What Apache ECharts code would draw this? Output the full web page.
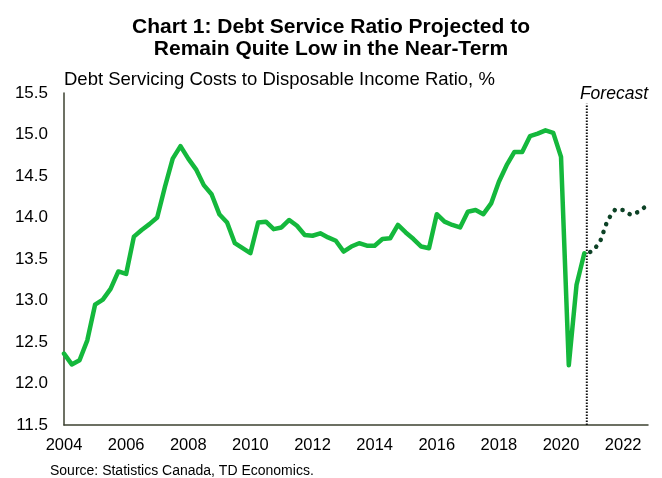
<!DOCTYPE html>
<html>
<head>
<meta charset="utf-8">
<script src="https://cdn.jsdelivr.net/npm/echarts@6/dist/echarts.min.js"></script>
<style>
  html, body { margin: 0; padding: 0; background: #fff; }
  #chart { width: 662px; height: 478px; }
</style>
</head>
<body>
<div id="chart"></div>
<script>
// Quarterly debt service ratio, 2004Q1 onward (actuals)
const firstYear = 2004;
const actual = [
  12.36, 12.23, 12.28, 12.52,  // 2004
  12.95, 13.01, 13.14, 13.35,  // 2005
  13.32, 13.77, 13.85, 13.92,  // 2006
  14.00, 14.37, 14.71, 14.86,  // 2007
  14.71, 14.58, 14.39, 14.28,  // 2008
  14.04, 13.94, 13.69, 13.63,  // 2009
  13.57, 13.94, 13.95, 13.86,  // 2010
  13.88, 13.97, 13.90, 13.79,  // 2011
  13.78, 13.81, 13.76, 13.72,  // 2012
  13.59, 13.65, 13.69, 13.66,  // 2013
  13.66, 13.74, 13.75, 13.91,  // 2014
  13.82, 13.74, 13.65, 13.63,  // 2015
  14.04, 13.95, 13.91, 13.88,  // 2016
  14.07, 14.09, 14.04, 14.17,  // 2017
  14.43, 14.63, 14.79, 14.79,  // 2018
  14.98, 15.01, 15.05, 15.02,  // 2019
  14.73, 12.22, 13.19, 13.57   // 2020
];
// Forecast path, starting from the last actual quarter (2020Q4)
const forecastStart = 2020.75;
const forecast = [13.57, 13.59, 13.70, 13.97, 14.10, 14.09, 14.03, 14.07, 14.14];

// Axis settings
const xMin = 2004, xMax = 2022.8, xStep = 2;
const yMin = 11.5, yMax = 15.5, yStep = 0.5;
const forecastMarker = 2020.83;
const forecastMarkerTop = 15.37;

const titleText = 'Chart 1: Debt Service Ratio Projected to\nRemain Quite Low in the Near-Term';
const subtitleText = 'Debt Servicing Costs to Disposable Income Ratio, %';
const forecastText = 'Forecast';
const sourceText = 'Source: Statistics Canada, TD Economics.';

const FONT = '"Liberation Sans", Arial, Helvetica, sans-serif';

const actualPts = actual.map((v, i) => [firstYear + i / 4, v]);
const forecastPts = forecast.map((v, i) => [forecastStart + i / 4, v]);

const chart = echarts.init(document.getElementById('chart'), null, { renderer: 'canvas' });

chart.setOption({
  animation: false,
  backgroundColor: '#ffffff',
  title: {
    text: titleText,
    left: 'center',
    top: 11,
    textStyle: {
      fontFamily: FONT,
      fontSize: 21,
      fontWeight: 'bold',
      color: '#000',
      lineHeight: 22
    }
  },
  grid: { left: 64, right: 14, top: 93, bottom: 53 },
  xAxis: {
    type: 'value',
    min: xMin,
    max: xMax,
    interval: xStep,
    splitLine: { show: false },
    axisTick: { show: false },
    axisLine: { show: true, lineStyle: { color: '#3d4230', width: 1.5 } },
    axisLabel: {
      fontFamily: FONT,
      fontSize: 16.5,
      color: '#000',
      margin: 12,
      formatter: v => (Math.abs(v - Math.round(v)) < 1e-6 && Math.round(v) % 2 === 0) ? String(Math.round(v)) : ''
    }
  },
  yAxis: {
    type: 'value',
    min: yMin,
    max: yMax,
    interval: yStep,
    splitLine: { show: false },
    axisTick: { show: false },
    axisLine: { show: true, lineStyle: { color: '#3d4230', width: 1.5 } },
    axisLabel: {
      fontFamily: FONT,
      fontSize: 17,
      color: '#000',
      margin: 16,
      formatter: v => v.toFixed(1)
    }
  },
  graphic: [
    {
      type: 'text',
      left: 64,
      top: 70,
      style: { text: subtitleText, font: '18.5px ' + FONT, fill: '#000' }
    },
    {
      type: 'text',
      right: 14,
      top: 85,
      style: { text: forecastText, font: 'italic 17.5px ' + FONT, fill: '#000' }
    },
    {
      type: 'text',
      left: 50,
      top: 464,
      style: { text: sourceText, font: '14px ' + FONT, fill: '#000' }
    }
  ],
  series: [
    {
      name: 'Forecast divider',
      type: 'line',
      data: [[forecastMarker, yMin], [forecastMarker, forecastMarkerTop]],
      symbol: 'none',
      silent: true,
      lineStyle: { color: '#111', width: 2, type: [1.5, 1.5] },
      z: 1
    },
    {
      name: 'Actual',
      type: 'line',
      data: actualPts,
      symbol: 'none',
      lineStyle: { color: '#14b83c', width: 4.5, join: 'round', cap: 'round' },
      z: 3
    },
    {
      name: 'Forecast',
      type: 'line',
      data: forecastPts,
      symbol: 'none',
      lineStyle: { color: '#0d4226', width: 4.5, type: [0.1, 8.2], cap: 'round', dashOffset: -6 },
      z: 2
    }
  ]
});
</script>
</body>
</html>
